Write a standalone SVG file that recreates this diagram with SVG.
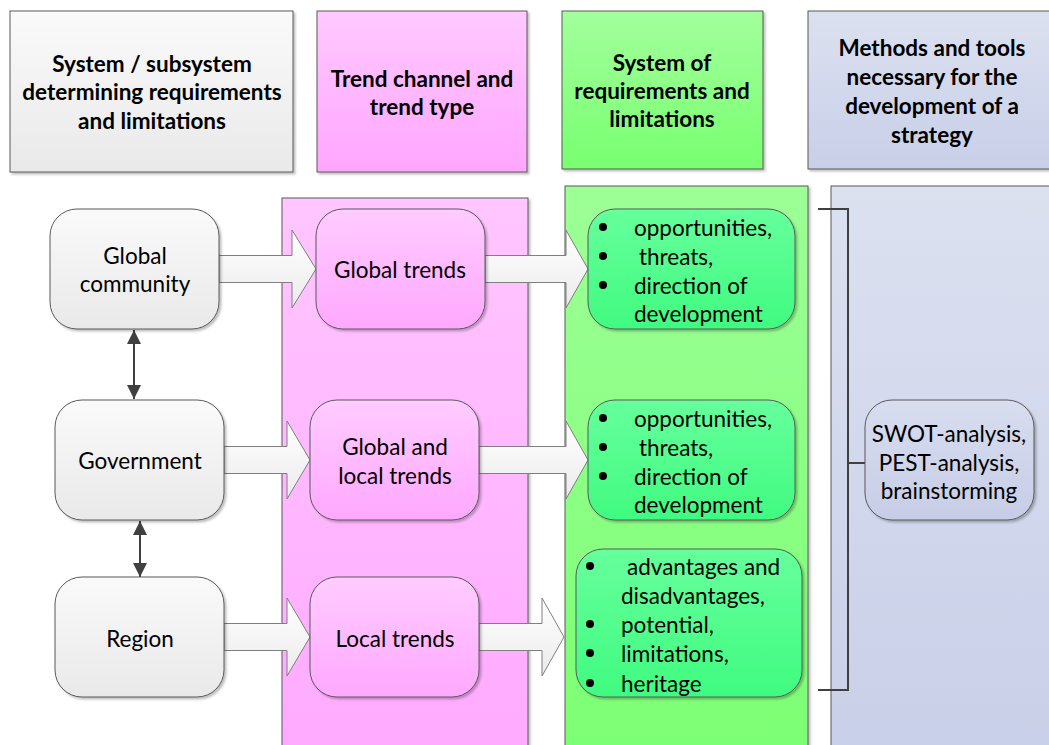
<svg xmlns="http://www.w3.org/2000/svg" width="1049" height="745" viewBox="0 0 1049 745">
<defs>
<linearGradient id="gGray" x1="0" y1="0" x2="0" y2="1"><stop offset="0" stop-color="#fafafa"/><stop offset="1" stop-color="#e9e9e9"/></linearGradient>
<linearGradient id="gPinkH" x1="0" y1="0" x2="0" y2="1"><stop offset="0" stop-color="#ffc9ff"/><stop offset="1" stop-color="#ffa6ff"/></linearGradient>
<linearGradient id="gPinkP" x1="0" y1="0" x2="0" y2="1"><stop offset="0" stop-color="#ffc6ff"/><stop offset="1" stop-color="#ffaaff"/></linearGradient>
<linearGradient id="gGreenH" x1="0" y1="0" x2="0" y2="1"><stop offset="0" stop-color="#a2ff9c"/><stop offset="1" stop-color="#78ff70"/></linearGradient>
<linearGradient id="gGreenP" x1="0" y1="0" x2="0" y2="1"><stop offset="0" stop-color="#9cff96"/><stop offset="1" stop-color="#7cff74"/></linearGradient>
<linearGradient id="gBlue" x1="0" y1="0" x2="0" y2="1"><stop offset="0" stop-color="#dce1f0"/><stop offset="1" stop-color="#c8cfe8"/></linearGradient>
<linearGradient id="gPinkN" x1="0" y1="0" x2="0" y2="1"><stop offset="0" stop-color="#ffccff"/><stop offset="1" stop-color="#ffa8ff"/></linearGradient>
<linearGradient id="gGreenN" x1="0" y1="0" x2="0" y2="1"><stop offset="0" stop-color="#66ff9c"/><stop offset="1" stop-color="#40fb80"/></linearGradient>
<linearGradient id="gBlueN" x1="0" y1="0" x2="0" y2="1"><stop offset="0" stop-color="#d8ddef"/><stop offset="1" stop-color="#c6cde6"/></linearGradient>
<linearGradient id="gArrow" x1="0" y1="0" x2="0" y2="1"><stop offset="0" stop-color="#ffffff"/><stop offset="1" stop-color="#ebebeb"/></linearGradient>
<filter id="sh" x="-10%" y="-10%" width="130%" height="130%"><feDropShadow dx="2" dy="2" stdDeviation="1.2" flood-color="#000" flood-opacity="0.25"/></filter>
<marker id="ah" viewBox="0 0 14 20" refX="14" refY="10" markerWidth="14" markerHeight="20" markerUnits="userSpaceOnUse" orient="auto-start-reverse"><path d="M0,3 L14,10 L0,17 Z" fill="#404040"/></marker>
</defs>
<style>
.hdr{stroke:#595959;stroke-width:1;filter:url(#sh)}
.pnl{stroke:#595959;stroke-width:1;filter:url(#sh)}
.node{stroke:#595959;stroke-width:1;filter:url(#sh)}
.ht{font-family:Lato,"Liberation Sans",sans-serif;font-weight:bold;font-size:22.5px;fill:#000;text-anchor:middle;dominant-baseline:central}
.t{font-family:Lato,"Liberation Sans",sans-serif;font-size:22.5px;fill:#000;dominant-baseline:central}
.c{text-anchor:middle}
.blk{fill:url(#gArrow);stroke:#7f7f7f;stroke-width:1}
.dbl{stroke:#404040;stroke-width:2;fill:none}
.brk{stroke:#404040;stroke-width:2;fill:none}
.bul{fill:#000}
</style>
<rect width="1049" height="745" fill="#ffffff"/>

<g id="header-system">
<rect class="hdr" x="10" y="11" width="283" height="161" fill="url(#gGray)"/>
<text class="ht" x="152" y="63">System / subsystem</text>
<text class="ht" x="152" y="91">determining requirements</text>
<text class="ht" x="152" y="120">and limitations</text>
</g>
<g id="header-trend">
<rect class="hdr" x="317" y="11" width="210" height="161" fill="url(#gPinkH)"/>
<text class="ht" x="422" y="78">Trend channel and</text>
<text class="ht" x="422" y="106">trend type</text>
</g>
<g id="header-requirements">
<rect class="hdr" x="562" y="11" width="201" height="158" fill="url(#gGreenH)"/>
<text class="ht" x="662" y="62">System of</text>
<text class="ht" x="662" y="90">requirements and</text>
<text class="ht" x="662" y="118">limitations</text>
</g>
<g id="header-methods">
<rect class="hdr" x="808" y="11" width="250" height="158" fill="url(#gBlue)"/>
<text class="ht" x="932" y="47">Methods and tools</text>
<text class="ht" x="932" y="76">necessary for the</text>
<text class="ht" x="932" y="105">development of a</text>
<text class="ht" x="932" y="134">strategy</text>
</g>

<g id="panel-trend"><rect class="pnl" x="282" y="198" width="246" height="560" fill="url(#gPinkP)"/></g>
<g id="panel-requirements"><rect class="pnl" x="565" y="186" width="243" height="572" fill="url(#gGreenP)"/></g>
<g id="panel-methods"><rect class="pnl" x="831" y="186" width="230" height="572" fill="url(#gBlue)"/></g>

<g id="connectors">
<path class="blk" d="M219,255.5 H292 V230 L316,269 L292,308 V282.5 H219 Z"/>
<path class="blk" d="M485,255.5 H566 V230 L588,269 L566,308 V282.5 H485 Z"/>
<path class="blk" d="M224,446.5 H287 V421 L310,460 L287,499 V473.5 H224 Z"/>
<path class="blk" d="M479,446.5 H566 V421 L588,460 L566,499 V473.5 H479 Z"/>
<path class="blk" d="M224,623.5 H287 V598 L310,637 L287,676 V650.5 H224 Z"/>
<path class="blk" d="M479,623.5 H542 V598 L564,637 L542,676 V650.5 H479 Z"/>
<line class="dbl" x1="134" y1="330" x2="134" y2="399" marker-start="url(#ah)" marker-end="url(#ah)"/>
<line class="dbl" x1="140" y1="521" x2="140" y2="577" marker-start="url(#ah)" marker-end="url(#ah)"/>
<path class="brk" d="M818,209 H848 V690 H818"/>
<path class="brk" d="M848,463 H866"/>
</g>

<g id="node-global-community">
<rect class="node" x="50" y="209" width="169" height="120" rx="27" fill="url(#gGray)"/>
<text class="t c" x="135" y="255">Global</text>
<text class="t c" x="135" y="283">community</text>
</g>
<g id="node-government">
<rect class="node" x="55" y="400" width="169" height="120" rx="27" fill="url(#gGray)"/>
<text class="t c" x="140" y="460">Government</text>
</g>
<g id="node-region">
<rect class="node" x="55" y="577" width="169" height="120" rx="27" fill="url(#gGray)"/>
<text class="t c" x="140" y="638">Region</text>
</g>

<g id="node-global-trends">
<rect class="node" x="316" y="209" width="169" height="120" rx="27" fill="url(#gPinkN)"/>
<text class="t c" x="400" y="269">Global trends</text>
</g>
<g id="node-global-local-trends">
<rect class="node" x="310" y="400" width="169" height="120" rx="27" fill="url(#gPinkN)"/>
<text class="t c" x="395" y="446">Global and</text>
<text class="t c" x="395" y="475">local trends</text>
</g>
<g id="node-local-trends">
<rect class="node" x="310" y="577" width="169" height="120" rx="27" fill="url(#gPinkN)"/>
<text class="t c" x="395" y="638">Local trends</text>
</g>

<g id="node-req-global">
<rect class="node" x="588" y="209" width="207" height="120" rx="27" fill="url(#gGreenN)"/>
<circle class="bul" cx="603" cy="227" r="4"/><circle class="bul" cx="603" cy="256" r="4"/><circle class="bul" cx="603" cy="285" r="4"/>
<text class="t" x="634" y="227">opportunities,</text>
<text class="t" x="639" y="256">threats,</text>
<text class="t" x="634" y="285">direction of</text>
<text class="t" x="634" y="313">development</text>
</g>
<g id="node-req-global-local">
<rect class="node" x="588" y="400" width="207" height="120" rx="27" fill="url(#gGreenN)"/>
<circle class="bul" cx="603" cy="418" r="4"/><circle class="bul" cx="603" cy="447" r="4"/><circle class="bul" cx="603" cy="476" r="4"/>
<text class="t" x="634" y="418">opportunities,</text>
<text class="t" x="639" y="447">threats,</text>
<text class="t" x="634" y="476">direction of</text>
<text class="t" x="634" y="504">development</text>
</g>
<g id="node-req-local">
<rect class="node" x="576" y="549" width="226" height="148" rx="27" fill="url(#gGreenN)"/>
<circle class="bul" cx="590" cy="566" r="4"/><circle class="bul" cx="590" cy="624" r="4"/><circle class="bul" cx="590" cy="653" r="4"/><circle class="bul" cx="590" cy="683" r="4"/>
<text class="t" x="627" y="566">advantages and</text>
<text class="t" x="621" y="595">disadvantages,</text>
<text class="t" x="621" y="624">potential,</text>
<text class="t" x="621" y="653">limitations,</text>
<text class="t" x="621" y="683">heritage</text>
</g>

<g id="node-methods">
<rect class="node" x="865" y="400" width="169" height="120" rx="27" fill="url(#gBlueN)"/>
<text class="t c" x="949" y="433">SWOT-analysis,</text>
<text class="t c" x="949" y="462">PEST-analysis,</text>
<text class="t c" x="949" y="490">brainstorming</text>
</g>
</svg>
